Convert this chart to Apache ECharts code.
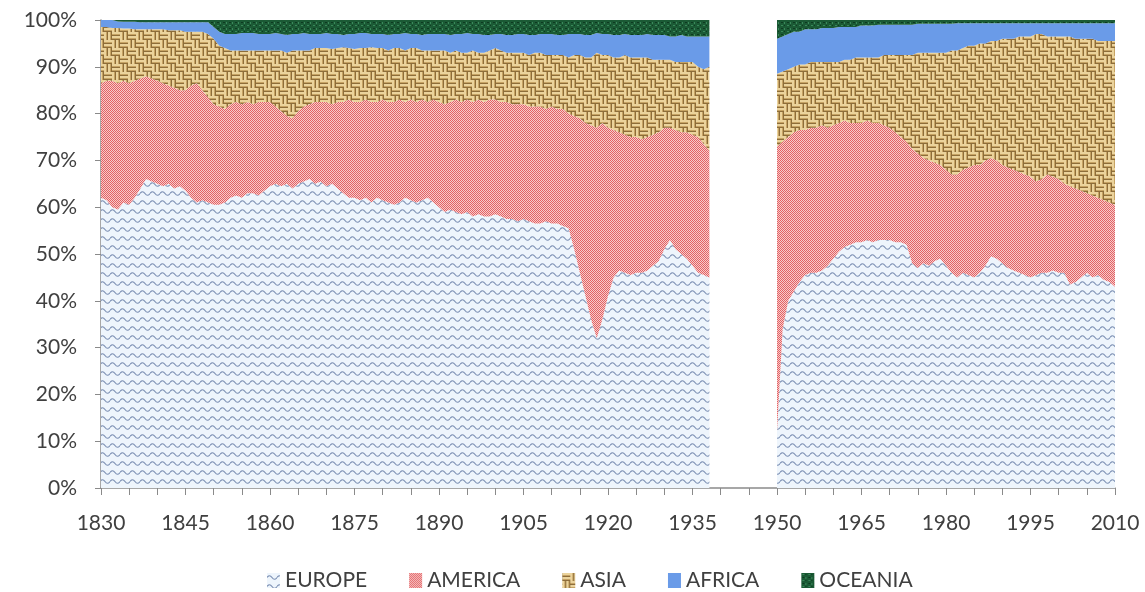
<!DOCTYPE html>
<html>
<head>
<meta charset="utf-8">
<script src="https://cdn.jsdelivr.net/npm/echarts@6/dist/echarts.min.js"></script>
<style>
html, body { margin: 0; padding: 0; background: #fff; }
#chart { width: 1145px; height: 592px; }
</style>
</head>
<body>
<div id="chart"></div>
<script>
// upper edge of each band (cumulative %)
// block 1: 1830-1938, block 2: 1950-2010, nothing in between
var europeTop1 = [
  62, 61.5, 60, 59.5, 61, 60.5, 62, 64, 66, 65.5,
  65, 64.5, 65, 64, 64.5, 63.5, 62, 61, 61.5, 61,
  60.5, 60.5, 61, 62, 62.5, 62, 63, 63, 62.5, 63.5,
  64.5, 65, 64.5, 65, 64, 65, 65.5, 66, 65, 65.5,
  64.5, 65, 64, 63, 62, 62, 61.5, 62, 61, 62,
  61.5, 61, 60.5, 61, 62, 61.5, 61, 61.5, 62, 61,
  60, 59, 59.5, 59, 58.5, 59, 58, 58.5, 58, 58,
  58.5, 58, 57.5, 57.5, 57, 57.5, 57, 56.5, 56.5, 57,
  56.5, 56.5, 56, 55.5, 51, 46, 41, 36, 32, 36,
  41, 45, 46.5, 46, 45.5, 46, 46, 46.5, 47.5, 48.5,
  51, 53, 51, 50, 49, 47.5, 46, 45.5, 45
];
var americaTop1 = [
  86.5, 87, 87, 86.5, 87, 86.5, 87, 87.5, 88, 87.5,
  87, 86.5, 86, 85.5, 85, 85, 86, 86.5, 85, 83.5,
  82, 81.5, 81, 82, 82.5, 82, 82.5, 82, 82.5, 82.5,
  82.5, 81.5, 80.5, 79.5, 79, 80.5, 81.5, 82, 82.5, 82.5,
  82.5, 82, 82.5, 82.5, 83, 82.5, 82.5, 83, 82.5, 82.5,
  83, 82.5, 82.5, 83, 82.5, 83, 82.5, 83, 82.5, 83,
  82.5, 82, 82.5, 83, 82.5, 83, 82.5, 83, 82.5, 83,
  83, 82.5, 82.5, 82, 82, 82, 81.5, 81.5, 81.5, 81,
  81.5, 81, 81, 80, 79.5, 79, 78, 77.5, 77, 78,
  77, 76.5, 76, 75.5, 75, 75, 74.5, 75, 75.5, 76,
  77, 77, 76.5, 76, 76, 75.5, 75, 73.5, 72
];
var asiaTop1 = [
  98.5, 98.5, 98.3, 98.3, 98.2, 98.2, 98, 98, 98, 98,
  98, 98, 97.8, 97.8, 97.8, 97.5, 97.5, 97.5, 97.5, 97,
  96, 94.5, 94, 93.5, 93.5, 93.5, 93.5, 93.5, 93.5, 93.5,
  93.5, 93.5, 93.5, 93, 93.5, 93.5, 93.5, 93.5, 94, 94,
  94, 93.8, 94, 94.2, 94, 93.8, 94, 94, 94.2, 94,
  94, 93.5, 94, 94, 93.5, 94, 94, 93.5, 93.5, 93.5,
  93.5, 93.5, 93, 93.5, 93, 93, 93.5, 93, 93, 93.5,
  94, 93.5, 93, 93, 93, 93, 92.5, 93, 93, 92.5,
  92.5, 92.5, 92.5, 92, 92.5, 92.5, 92, 92, 93, 92.5,
  92.5, 92, 92, 92.5, 92, 92, 92, 92, 91.5, 91.5,
  91.5, 91.5, 91, 91, 91, 91, 90, 89.5, 90
];
var africaTop1 = [
  100, 100, 100, 99.7, 99.6, 99.6, 99.6, 99.5, 99.5, 99.5,
  99.5, 99.5, 99.5, 99.5, 99.5, 99.5, 99.5, 99.5, 99.5, 99.5,
  98.5, 97.5, 97, 97, 97, 97.2, 97.2, 97.2, 97, 97,
  97, 97.2, 97, 96.8, 97, 97, 97.2, 97, 97, 97,
  97.2, 97, 97, 96.8, 97, 97, 97.2, 97.2, 97, 97,
  97, 96.8, 97, 97, 97.2, 97, 97, 96.8, 97, 97,
  97, 97, 96.8, 97, 97, 97.2, 97, 97, 96.8, 96.8,
  97, 97, 96.8, 96.8, 97, 97, 96.8, 96.8, 97, 97,
  97, 96.8, 96.8, 97, 97, 97, 96.8, 96.8, 97.2, 97,
  97, 96.8, 96.8, 97, 96.8, 96.8, 96.8, 97, 96.8, 96.8,
  96.8, 96.5, 96.5, 96.8, 96.5, 96.5, 96.5, 96.5, 96.5
];

var europeTop2 = [
  12, 34, 40, 42, 44, 45.5, 46, 46, 46.5, 47.5,
  49, 50.5, 51.5, 52, 52.5, 52.5, 53, 52.5, 53, 53,
  53, 52.5, 52.5, 52, 48, 47, 48, 47.5, 48.5, 49,
  47.5, 46, 45, 46, 45.5, 45, 46, 47.5, 49.5, 49,
  48, 47, 46.5, 46, 45.5, 45, 45.5, 46, 46, 46.5,
  46, 46, 43.5, 44, 45, 46, 45, 45.5, 44.5, 44,
  43
];
var americaTop2 = [
  73, 74, 75, 76, 76.5, 76.5, 77, 77, 77.5, 77,
  77.5, 78, 78.5, 78, 78, 78, 78.5, 78, 78, 77.5,
  77, 76, 75, 74, 72.5, 71.5, 70.5, 70, 69.5, 69,
  68, 67, 67, 68, 68.5, 69, 69, 70, 70.5, 70,
  69, 68.5, 68, 67.5, 67, 66.5, 65.5, 66, 67, 66.5,
  66, 65, 64.5, 64, 63.5, 63, 62.5, 62, 61.5, 61,
  60.5
];
var asiaTop2 = [
  88.5, 89, 89.5, 90, 90.5, 90.5, 91, 91, 91, 91,
  91, 91, 91.5, 91.5, 92, 92, 92, 92, 92, 92.5,
  92.5, 92.5, 92.5, 92.5, 92.5, 93, 93, 93, 93, 93,
  93, 93.5, 93.5, 94, 94.5, 94.5, 95, 95, 95.5, 95.5,
  96, 96, 96, 96.5, 96.5, 96.5, 97, 97, 96.5, 96.5,
  96.5, 96.5, 96.5, 96, 96, 96, 96, 95.5, 95.5, 95.5,
  95.5
];
var africaTop2 = [
  96, 96.5, 97, 97.5, 97.5, 98, 98, 98, 98.3, 98.3,
  98.3, 98.5, 98.5, 98.5, 98.5, 98.8, 98.8, 98.8, 99, 99,
  99, 99, 99, 99, 99, 99.2, 99.2, 99.2, 99.2, 99.2,
  99.2, 99.2, 99.3, 99.3, 99.3, 99.3, 99.3, 99.3, 99.3, 99.3,
  99.3, 99.3, 99.3, 99.3, 99.3, 99.3, 99.3, 99.3, 99.3, 99.3,
  99.3, 99.3, 99.3, 99.3, 99.3, 99.3, 99.3, 99.3, 99.3, 99.3,
  99.3
];

var names = ['EUROPE', 'AMERICA', 'ASIA', 'AFRICA', 'OCEANIA'];
var yTicks = [0, 10, 20, 30, 40, 50, 60, 70, 80, 90, 100];

var years = [];
for (var y = 1830; y <= 2010; y++) years.push(String(y));
var gap = [];
for (var g = 1939; g <= 1949; g++) gap.push(null);

function joined(a, b) { return a.concat(gap, b); }
var tops = [
  joined(europeTop1, europeTop2),
  joined(americaTop1, americaTop2),
  joined(asiaTop1, asiaTop2),
  joined(africaTop1, africaTop2)
];
// band thickness = this edge minus the one below it
function band(i) {
  return years.map(function (yr, k) {
    var top = i < 4 ? tops[i][k] : (tops[3][k] == null ? null : 100);
    if (top == null) return null;
    var below = i === 0 ? 0 : tops[i - 1][k];
    return Math.round((top - below) * 100) / 100;
  });
}

function pattern(w, h, draw) {
  var c = document.createElement('canvas');
  c.width = w; c.height = h;
  draw(c.getContext('2d'));
  return { image: c, repeat: 'repeat' };
}
var fills = [
  pattern(10, 9, function (ctx) {
    ctx.fillStyle = '#eef5fc'; ctx.fillRect(0, 0, 10, 9);
    ctx.strokeStyle = '#7b8fb3'; ctx.lineWidth = 1.2;
    ctx.beginPath();
    ctx.moveTo(0, 4.5);
    ctx.quadraticCurveTo(2.5, 1, 5, 4.5);
    ctx.quadraticCurveTo(7.5, 8, 10, 4.5);
    ctx.stroke();
  }),
  pattern(2, 2, function (ctx) {
    ctx.fillStyle = '#f6cccc'; ctx.fillRect(0, 0, 2, 2);
    ctx.fillStyle = '#e46163'; ctx.fillRect(0, 0, 1, 1); ctx.fillRect(1, 1, 1, 1);
  }),
  pattern(16, 16, function (ctx) {
    ctx.fillStyle = '#c6a364'; ctx.fillRect(0, 0, 16, 16);
    function horiz(x0, y0) {
      for (var r = 0; r < 8; r += 4) {
        ctx.fillStyle = '#ebd39c'; ctx.fillRect(x0, y0 + r, 8, 2);
        ctx.fillStyle = '#8d6d3a'; ctx.fillRect(x0, y0 + r + 3, 8, 1);
      }
    }
    function vert(x0, y0) {
      for (var r = 0; r < 8; r += 4) {
        ctx.fillStyle = '#ebd39c'; ctx.fillRect(x0 + r, y0, 2, 8);
        ctx.fillStyle = '#8d6d3a'; ctx.fillRect(x0 + r + 3, y0, 1, 8);
      }
    }
    horiz(0, 0); vert(8, 0); vert(0, 8); horiz(8, 8);
  }),
  '#6a9be8',
  pattern(6, 6, function (ctx) {
    ctx.fillStyle = '#1b5a35'; ctx.fillRect(0, 0, 6, 6);
    ctx.fillStyle = '#3a885a'; ctx.fillRect(1, 1, 2, 1); ctx.fillRect(4, 4, 1, 2);
    ctx.fillStyle = '#0d3a20'; ctx.fillRect(4, 1, 1, 1); ctx.fillRect(1, 4, 2, 1);
  })
];

var series = names.map(function (name, i) {
  return {
    name: name,
    type: 'line',
    stack: 'share',
    data: band(i),
    showSymbol: false,
    connectNulls: false,
    lineStyle: { width: 0, opacity: 0 },
    itemStyle: { color: fills[i] },
    areaStyle: { color: fills[i], opacity: 1 },
    emphasis: { disabled: true }
  };
});

var font = 'Lato';
var chart = echarts.init(document.getElementById('chart'));
chart.setOption({
  animation: false,
  backgroundColor: '#fff',
  textStyle: { fontFamily: font },
  grid: { left: 101, right: 30, top: 20, bottom: 104 },
  legend: {
    data: names,
    top: 565,
    left: 262,
    itemWidth: 13,
    itemHeight: 15,
    itemGap: 42,
    icon: 'rect',
    textStyle: { fontSize: 21, color: '#404040', fontFamily: font }
  },
  xAxis: {
    type: 'category',
    data: years,
    boundaryGap: false,
    axisLine: { lineStyle: { color: '#8a8a8a', width: 1.5 } },
    axisTick: { interval: 4, length: 7, lineStyle: { color: '#8a8a8a' } },
    axisLabel: { interval: 14, margin: 25, fontSize: 21, color: '#404040' },
    splitLine: { show: false }
  },
  yAxis: {
    type: 'value',
    min: yTicks[0],
    max: yTicks[yTicks.length - 1],
    interval: 10,
    axisLine: { show: true, lineStyle: { color: '#8a8a8a', width: 1.5 } },
    axisTick: { show: true, length: 6, lineStyle: { color: '#8a8a8a' } },
    axisLabel: { formatter: '{value}%', margin: 24, fontSize: 21, color: '#404040' },
    splitLine: { show: false }
  },
  series: series
});
</script>
</body>
</html>
